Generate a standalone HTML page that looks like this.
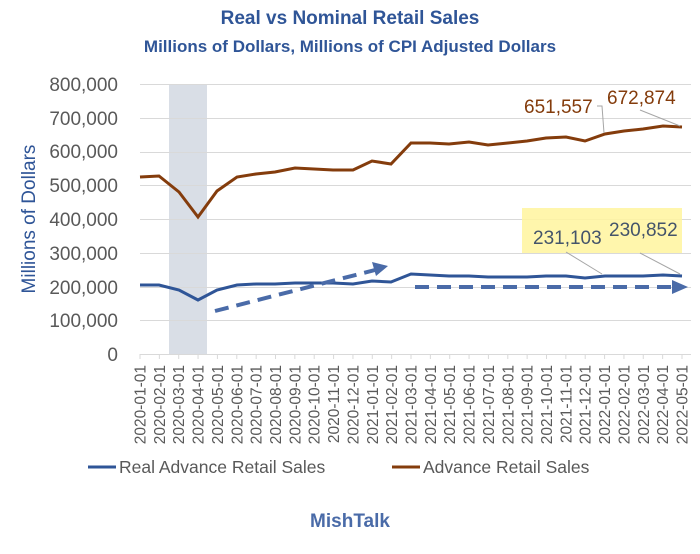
<!DOCTYPE html>
<html><head><meta charset="utf-8"><style>
body{margin:0;background:#fff;}
svg text{font-family:"Liberation Sans",sans-serif;}
</style></head><body>
<svg width="700" height="549" viewBox="0 0 700 549" xmlns="http://www.w3.org/2000/svg">
<text x="350" y="24" text-anchor="middle" font-size="19" font-weight="bold" fill="#2F5597">Real vs Nominal Retail Sales</text>
<text x="350" y="52" text-anchor="middle" font-size="17" font-weight="bold" fill="#2F5597">Millions of Dollars, Millions of CPI Adjusted Dollars</text>
<rect x="169" y="84" width="38" height="270" fill="#D9DEE6"/>
<g stroke="#D9D9D9" stroke-width="1">
<line x1="140" x2="691" y1="84.5" y2="84.5"/><line x1="140" x2="691" y1="118.5" y2="118.5"/>
<line x1="140" x2="691" y1="152.5" y2="152.5"/><line x1="140" x2="691" y1="185.5" y2="185.5"/>
<line x1="140" x2="691" y1="219.5" y2="219.5"/><line x1="140" x2="691" y1="253.5" y2="253.5"/>
<line x1="140" x2="691" y1="287.5" y2="287.5"/><line x1="140" x2="691" y1="320.5" y2="320.5"/>
<line x1="140" x2="691" y1="354.5" y2="354.5"/>
</g>
<g font-size="19" fill="#595959" text-anchor="end">
<text x="118" y="91">800,000</text><text x="118" y="125">700,000</text><text x="118" y="158">600,000</text>
<text x="118" y="192">500,000</text><text x="118" y="226">400,000</text><text x="118" y="260">300,000</text>
<text x="118" y="294">200,000</text><text x="118" y="327">100,000</text><text x="118" y="361">0</text>
</g>
<text transform="translate(35,219) rotate(-90)" text-anchor="middle" font-size="19" fill="#2F5597">Millions of Dollars</text>
<rect x="522" y="208" width="160" height="45" fill="#FFF59D" opacity="0.85"/>
<g id="ticks"></g>
<polyline fill="none" stroke="#843C0C" stroke-width="3" points="140,177 159,176 179,192 198,217 217,191 237,177 256,174 275,172 295,168 314,169 333,170 353,170 372,161 391,164 411,143 430,143 449,144 469,142 488,145 508,143 527,141 546,138 566,137 585,141 605,134 624,131 643,129 663,126 682,127"/>
<polyline fill="none" stroke="#2F5597" stroke-width="3" points="140,285 159,285 179,290 198,300 217,290 237,285 256,284 275,284 295,283 314,283 333,283 353,284 372,281 391,282 411,274 430,275 449,276 469,276 488,277 508,277 527,277 546,276 566,276 585,278 605,276 624,276 643,276 663,275 682,276"/>
<line x1="215" y1="311" x2="375" y2="270" stroke="#4A6BA8" stroke-width="4" stroke-dasharray="14,8"/>
<polygon points="388,266 372,262 376,276" fill="#4A6BA8"/>
<line x1="415" y1="287" x2="672" y2="287" stroke="#4A6BA8" stroke-width="4" stroke-dasharray="14,8"/>
<polygon points="688,287 672,280 672,294" fill="#4A6BA8"/>
<g stroke="#A6A6A6" stroke-width="1" fill="none">
<polyline points="597,106 602,106 604,133"/><line x1="640" y1="110" x2="680" y2="126"/>
<line x1="566" y1="252" x2="602" y2="274"/><line x1="640" y1="253" x2="680" y2="274"/>
</g>
<g font-size="19" fill="#843C0C"><text x="524" y="113">651,557</text><text x="607" y="104">672,874</text></g>
<g font-size="19" fill="#44546A"><text x="533" y="244">231,103</text><text x="609" y="236">230,852</text></g>
<g font-size="15.5" fill="#595959" id="xl"></g>
<line x1="88" y1="467" x2="116" y2="467" stroke="#2F5597" stroke-width="3"/>
<text x="119" y="473" font-size="17.5" fill="#595959">Real Advance Retail Sales</text>
<line x1="392" y1="467" x2="420" y2="467" stroke="#843C0C" stroke-width="3"/>
<text x="423" y="473" font-size="17.5" fill="#595959">Advance Retail Sales</text>
<text x="350" y="527" text-anchor="middle" font-size="19" font-weight="bold" fill="#4A6BA8">MishTalk</text>
<script>
var xl=document.getElementById('xl'),tk=document.getElementById('ticks'),ns='http://www.w3.org/2000/svg';
for(var i=0;i<29;i++){var x=140+i*19.357;var y=2020+Math.floor(i/12),m=i%12+1;
var l=document.createElementNS(ns,'line');l.setAttribute('x1',x);l.setAttribute('x2',x);l.setAttribute('y1',354);l.setAttribute('y2',359);l.setAttribute('stroke','#D9D9D9');tk.appendChild(l);
var t=document.createElementNS(ns,'text');t.setAttribute('transform','translate('+(x+5.5)+',365) rotate(-90)');t.setAttribute('text-anchor','end');
t.textContent=y+'-'+(m<10?'0':'')+m+'-01';xl.appendChild(t);}
</script>
</svg>
</body></html>
